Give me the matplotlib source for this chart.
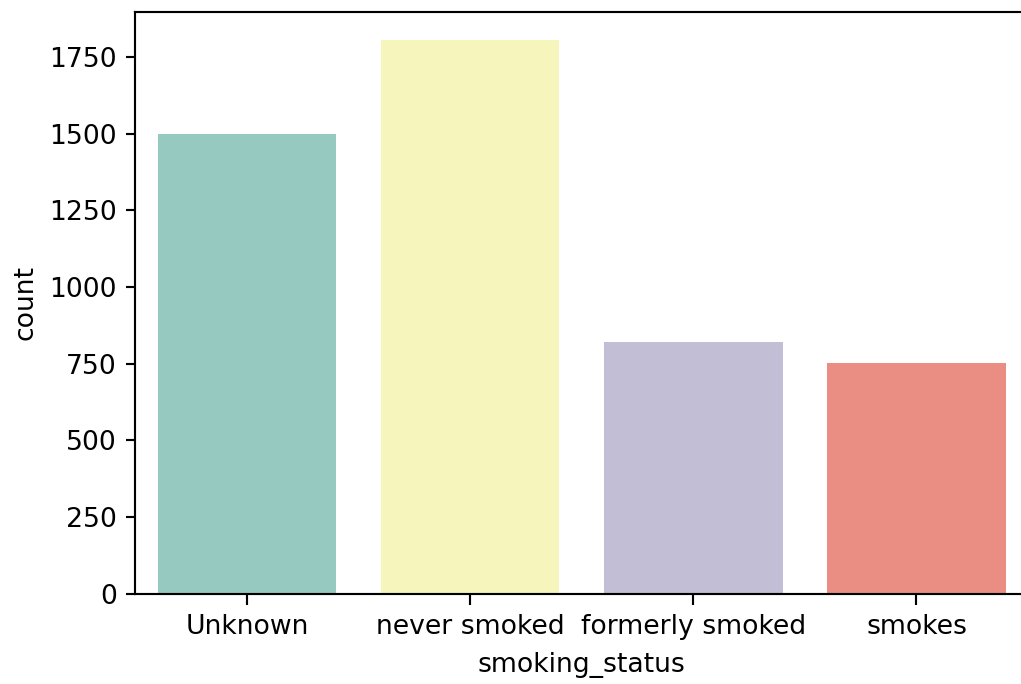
import matplotlib
matplotlib.use("Agg")
import matplotlib.pyplot as plt
import seaborn as sns

# Counts per smoking status
categories = ["Unknown", "never smoked", "formerly smoked", "smokes"]
counts = [1497, 1806, 820, 751]

colors = [sns.desaturate(c, 0.75) for c in sns.color_palette("Set3", 4)]

DPI = 192
fig = plt.figure(figsize=(1021 / DPI, 684 / DPI), dpi=DPI)
ax = fig.add_axes([0.1327, 0.1323, 0.8742, 0.8501])

x = range(len(categories))
ax.bar(x, counts, width=0.8, color=colors)
ax.set_xticks(list(x))
ax.set_xticklabels(categories)
ax.set_xlim(-0.5, len(categories) - 0.5)
ax.tick_params(axis="x", length=4.3)
ax.set_xlabel("smoking_status", labelpad=4.5)
ax.set_ylabel("count")

fig.savefig("out.png", dpi=DPI)
